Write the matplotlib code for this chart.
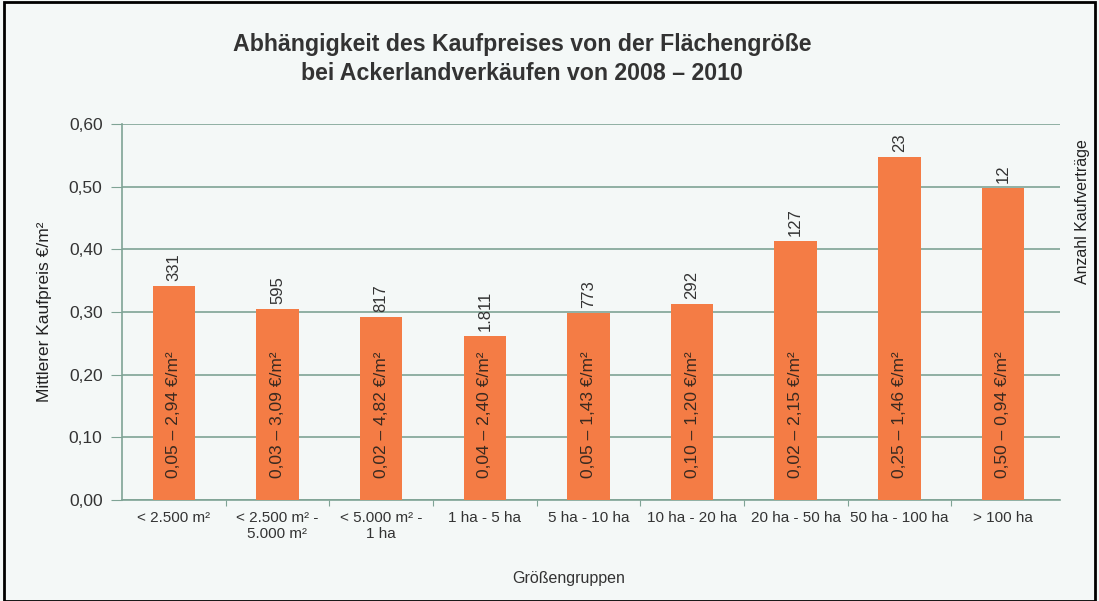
import matplotlib
matplotlib.use("Agg")
import matplotlib.pyplot as plt
from matplotlib.patches import Rectangle

categories = ["< 2.500 m²", "< 2.500 m² -\n5.000 m²", "< 5.000 m² -\n1 ha", "1 ha - 5 ha",
              "5 ha - 10 ha", "10 ha - 20 ha", "20 ha - 50 ha", "50 ha - 100 ha", "> 100 ha"]
mean_price = [0.341, 0.305, 0.292, 0.262, 0.298, 0.313, 0.413, 0.547, 0.498]
contracts = ["331", "595", "817", "1.811", "773", "292", "127", "23", "12"]
ranges = ["0,05 – 2,94 €/m²", "0,03 – 3,09 €/m²", "0,02 – 4,82 €/m²", "0,04 – 2,40 €/m²",
          "0,05 – 1,43 €/m²", "0,10 – 1,20 €/m²", "0,02 – 2,15 €/m²", "0,25 – 1,46 €/m²",
          "0,50 – 0,94 €/m²"]
yticks = [0.0, 0.1, 0.2, 0.3, 0.4, 0.5, 0.6]
yticklabels = ["0,00", "0,10", "0,20", "0,30", "0,40", "0,50", "0,60"]

plt.rcParams['font.family'] = ['Liberation Sans', 'DejaVu Sans']

fig = plt.figure(figsize=(10.99, 6.01), dpi=100)
fig.patch.set_facecolor('#f4f8f7')
fig.add_artist(Rectangle((0.004, 0.0), 0.992, 0.996, transform=fig.transFigure,
                         fill=False, edgecolor='black', linewidth=2))

ax = fig.add_axes([122/1099, 1 - 500/601, (1060-122)/1099, 376/601])
ax.set_facecolor('none')
x = list(range(len(categories)))
bar_color = '#f47c45'
ax.bar(x, mean_price, width=0.41, color=bar_color, zorder=3)

ax.set_ylim(0, 0.6)
ax.set_xlim(-0.5, 8.55)
ax.set_yticks(yticks)
ax.set_yticklabels(yticklabels, fontsize=12.5, color='#333333')
ax.yaxis.grid(True, color='#7fa395', linewidth=1.2, zorder=0)
ax.set_xticks([i + 0.5 for i in x[:-1]], minor=False)
ax.set_xticklabels([])
ax.set_xticks(x, minor=True)
ax.set_xticklabels(categories, minor=True, fontsize=11, color='#333333')
ax.tick_params(axis='x', which='minor', length=0, pad=8)
ax.tick_params(axis='x', which='major', length=4, color='#7fa395')
ax.tick_params(axis='y', length=8, color='#7fa395', pad=6)
for s in ['top', 'right']:
    ax.spines[s].set_visible(False)
ax.spines['left'].set_color('#7fa395')
ax.spines['bottom'].set_color('#7fa395')
ax.spines['left'].set_linewidth(1.2)
ax.spines['bottom'].set_linewidth(1.2)

for i in x:
    ax.text(i, mean_price[i] + 0.008, contracts[i], rotation=90, ha='center', va='bottom',
            fontsize=12, color='#333333', zorder=4)
    ax.text(i, 0.035, ranges[i], rotation=90, ha='center', va='bottom',
            fontsize=12.5, color='#3a2a20', zorder=4)

ax.set_ylabel("Mittlerer Kaufpreis €/m²", fontsize=12.5, color='#222222', labelpad=12)
fig.text(569/1099, 1 - 578/601, "Größengruppen", ha='center', va='center', fontsize=11.5, color='#333333')
fig.text(1083/1099, 1 - 212/601, "Anzahl Kaufverträge", rotation=90, ha='center', va='center',
         fontsize=11.5, color='#222222')
fig.text(522/1099, 1 - 59/601, "Abhängigkeit des Kaufpreises von der Flächengröße\nbei Ackerlandverkäufen von 2008 – 2010",
         ha='center', va='center', fontsize=16.7, fontweight='bold', color='#333333', linespacing=1.35)

fig.savefig("out.png", dpi=100, facecolor=fig.get_facecolor())
